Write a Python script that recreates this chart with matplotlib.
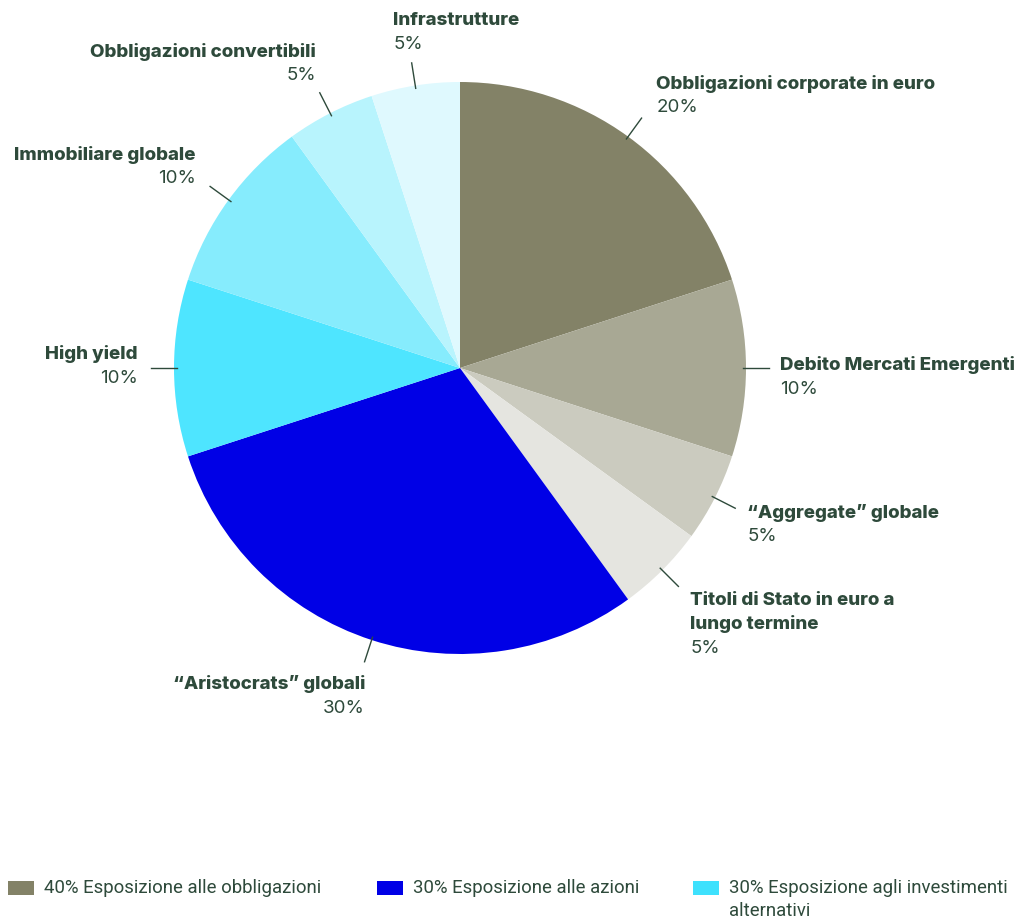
import numpy as np
import matplotlib
matplotlib.use("Agg")
import matplotlib.pyplot as plt
from matplotlib.patches import Rectangle

# ---- data ----
labels = ["Obbligazioni corporate in euro", "Debito Mercati Emergenti", "“Aggregate” globale",
          "Titoli di Stato in euro a\nlungo termine", "“Aristocrats” globali", "High yield",
          "Immobiliare globale", "Obbligazioni convertibili", "Infrastrutture"]
values = [20, 10, 5, 5, 30, 10, 10, 5, 5]
colors = ["#838267", "#a8a894", "#cbcbbf", "#e5e5e0", "#0000e6", "#4ee5ff",
          "#86ecfd", "#b8f4fd", "#dff9fe"]
legend_labels = ["40% Esposizione alle obbligazioni", "30% Esposizione alle azioni",
                 "30% Esposizione agli investimenti\nalternativi"]
legend_colors = ["#838267", "#0000e6", "#3ee1fd"]

# ---- layout (pixels) ----
W, H = 1022, 919
CX, CY, R = 460, 368, 286
TXT = "#2e4a3b"
# per-label: ha, dx, dy (px offset of first name line centre from leader end)
lay = [("left", 14, -33), ("left", 10, -3), ("left", 11, 4), ("left", 11, 13),
       ("right", 1, 21), ("right", -12, -14), ("right", -13, -31), ("right", -3, -40),
       ("left", -18, -41)]
LINE = 24

fig = plt.figure(figsize=(W / 100, H / 100), dpi=100)
ax = fig.add_axes([0, 0, 1, 1])
ax.axis("off")

wedges, _ = ax.pie(values, colors=colors, startangle=90, counterclock=False,
                   radius=1, center=(0, 0), wedgeprops=dict(linewidth=0))
ax.set_xlim(-CX / R, (W - CX) / R)
ax.set_ylim(-(H - CY) / R, CY / R)
ax.set_aspect("equal")

total = sum(values)
cum = 0
for lab, v, (ha, dx, dy) in zip(labels, values, lay):
    mid = (cum + v / 2) / total * 2 * np.pi
    cum += v
    sx, sy = np.sin(mid), np.cos(mid)
    ax.plot([0.99 * sx, 1.08 * sx], [0.99 * sy, 1.08 * sy], color=TXT, lw=1.0)
    ex, ey = 1.085 * sx, 1.085 * sy
    tx = ex + dx / R
    ty = ey - dy / R
    nlines = lab.count("\n") + 1
    for i, part in enumerate(lab.split("\n")):
        ax.text(tx, ty - i * LINE / R, part, ha=ha, va="center", fontsize=13.5,
                fontweight=800, family="Inter", color=TXT)
    ax.text(tx, ty - nlines * LINE / R, f"{v}%", ha=ha, va="center", fontsize=13.5,
            fontweight="normal", family="Inter", color=TXT)

# ---- legend ----
leg_x = [8, 377, 693]
for x, lab, c in zip(leg_x, legend_labels, legend_colors):
    fig.patches.append(Rectangle((x / W, 1 - 895 / H), 26 / W, 14 / H,
                                 transform=fig.transFigure, color=c, lw=0))
    parts = lab.split("\n")
    for i, p in enumerate(parts):
        fig.text((x + 36) / W, 1 - (888 + i * 23) / H, p, ha="left", va="center",
                 fontsize=13.4, family="Roboto", color=TXT)

fig.savefig("out.png", dpi=100, facecolor="white")
